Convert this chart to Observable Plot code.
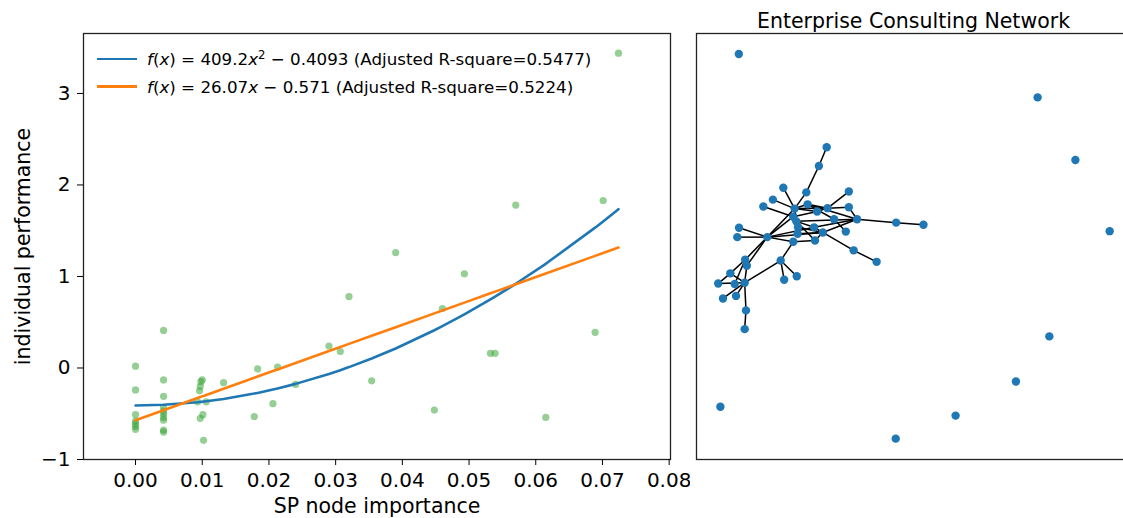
<!DOCTYPE html>
<html><head><meta charset="utf-8">
<script src="https://cdn.jsdelivr.net/npm/d3@7"></script>
<script src="https://cdn.jsdelivr.net/npm/@observablehq/plot@0.6"></script>
<style>
html,body{margin:0;padding:0;background:#fff;overflow:hidden;width:1123px;height:518px;}
#wrap{position:relative;width:1123px;height:518px;overflow:hidden;font-family:"DejaVu Sans";}
#left{position:absolute;left:0;top:0;width:680px;}
#right{position:absolute;left:690px;top:0;width:450px;}
#left svg,#right svg{max-width:none !important;}
.leg{position:absolute;left:97px;height:24px;font-size:16.7px;display:flex;align-items:center;white-space:nowrap;color:#000;font-family:"DejaVu Sans";}
.sw{display:inline-block;width:40px;height:2.6px;margin-right:10px;}
.leg sup{font-size:0.7em;vertical-align:0.5em;line-height:0;}
</style></head><body>
<div id="wrap"><div id="left"></div><div id="right"></div></div>
<script>
// ---- data ----
const spImportance = [0.0042, 0, 0.0042, 0, 0.0042, 0.0100, 0.0098, 0.0097, 0.0096, 0.0132, 0.0106, 0.0093, 0.0183, 0.0213, 0, 0, 0, 0, 0, 0.0042, 0.0042, 0.0042, 0.0042, 0.0042, 0.0042, 0.0042, 0.0101, 0.0097, 0.0102, 0.0178, 0.0206, 0.0701, 0.0570, 0.0390, 0.0493, 0.0320, 0.0460, 0.0689, 0.0290, 0.0307, 0.0532, 0.0539, 0.0240, 0.0354, 0.0448, 0.0615, 0.0724];
const performance = [0.41, 0.02, -0.13, -0.24, -0.31, -0.13, -0.15, -0.20, -0.25, -0.16, -0.37, -0.37, -0.01, 0.01, -0.51, -0.58, -0.61, -0.64, -0.67, -0.43, -0.47, -0.50, -0.54, -0.57, -0.68, -0.70, -0.51, -0.55, -0.79, -0.53, -0.39, 1.83, 1.78, 1.26, 1.03, 0.78, 0.65, 0.39, 0.24, 0.18, 0.16, 0.16, -0.18, -0.14, -0.46, -0.54, 3.44];
const fitQuadCoef = [409.2, -0.4093];   // f(x) = a x^2 + b
const fitLinCoef = [26.07, -0.571];     // f(x) = a x + b
const fitColors = ["#1f77b4", "#ff7f0e"];
const fitLabels = [
  '<i>f</i>(<i>x</i>) = 409.2<i>x</i><sup>2</sup> − 0.4093 (Adjusted R-square=0.5477)',
  '<i>f</i>(<i>x</i>) = 26.07<i>x</i> − 0.571 (Adjusted R-square=0.5224)'
];
const xTicks = [0, 0.01, 0.02, 0.03, 0.04, 0.05, 0.06, 0.07, 0.08];
const yTicks = [-1, 0, 1, 2, 3];
const xLabel = "SP node importance";
const yLabel = "individual performance";

const networkTitle = "Enterprise Consulting Network";
const nodeX = [0.300,0.282,0.253,0.200,0.176,0.154,0.226,0.256,0.278,0.302,0.351,0.351,0.370,0.460,0.523,0.317,0.223,0.230,0.234,0.271,0.291,0.344,0.233,0.223,0.273,0.163,0.098,0.094,0.362,0.415,0.194,0.202,0.231,0.112,0.116,0.078,0.050,0.088,0.111,0.061,0.091,0.114,0.111,0.0975,0.786,0.873,0.952,0.813,0.736,0.597,0.459,0.055];
const nodeY = [0.733,0.689,0.627,0.638,0.610,0.594,0.589,0.599,0.582,0.590,0.629,0.592,0.564,0.556,0.551,0.564,0.570,0.559,0.545,0.545,0.533,0.535,0.530,0.511,0.514,0.522,0.544,0.522,0.491,0.464,0.467,0.422,0.430,0.469,0.455,0.437,0.413,0.412,0.415,0.378,0.384,0.350,0.306,0.952,0.850,0.703,0.536,0.289,0.183,0.103,0.049,0.124];
const edgeSource = [0,1,2,3,4,5,6,6,7,9,9,11,7,12,13,6,8,7,15,12,20,28,19,18,22,24,17,16,6,6,17,23,25,25,25,25,25,25,25,25,25,23,30,30,30,33,35,36,33,34,38,41,35,38,38,12,17];
const edgeTarget = [1,2,6,6,6,16,7,9,9,10,11,12,12,13,14,8,9,15,21,20,28,29,20,20,20,20,19,8,17,18,24,24,26,27,6,16,19,23,20,33,34,30,31,32,38,35,36,38,37,38,41,42,38,39,40,19,12];

// ---- left panel ----
const pts = spImportance.map((x, i) => ({x, y: performance[i]}));
const sortedX = spImportance.slice().sort(d3.ascending);
const fitQuad = sortedX.map(x => ({x, y: fitQuadCoef[0] * x * x + fitQuadCoef[1]}));
const fitLin = sortedX.map(x => ({x, y: fitLinCoef[0] * x + fitLinCoef[1]}));
const minusFmt = d => d < 0 ? "\u2212" + Math.abs(d) : String(d);

const left = Plot.plot({
  width: 680, height: 518,
  marginLeft: 83, marginRight: 10, marginTop: 33, marginBottom: 59,
  style: {fontFamily: "DejaVu Sans", fontSize: "20px", background: "white", color: "black", overflow: "visible"},
  x: {domain: [-0.0078, 0.0802]},
  y: {domain: [-1, 3.655]},
  marks: [
    Plot.dot(pts, {x: "x", y: "y", r: 3.6, fill: "#2ca02c", fillOpacity: 0.5}),
    Plot.line(fitQuad, {x: "x", y: "y", stroke: fitColors[0], strokeWidth: 2.6}),
    Plot.line(fitLin, {x: "x", y: "y", stroke: fitColors[1], strokeWidth: 2.6}),
    Plot.frame({stroke: "#222", strokeWidth: 1.3}),
    Plot.axisX({ticks: xTicks, tickFormat: d3.format(".2f"), tickSize: 6, tickPadding: 7, fontSize: 20, label: null}),
    Plot.axisY({ticks: yTicks, tickFormat: minusFmt, tickSize: 6, tickPadding: 7, fontSize: 20, label: null}),
    Plot.text([xLabel], {frameAnchor: "bottom", dy: 53, lineAnchor: "bottom", fontSize: 20.5, fill: "black"}),
    Plot.text([yLabel], {frameAnchor: "left", dx: -54, rotate: -90, lineAnchor: "bottom", textAnchor: "middle", fontSize: 20.5, fill: "black"})
  ]
});
document.getElementById("left").appendChild(left);

// legend
const wrap = document.getElementById("wrap");
const legendCenters = [59, 86.5];
fitLabels.forEach((lab, i) => {
  const row = document.createElement("div");
  row.className = "leg";
  row.style.top = (legendCenters[i] - 12) + "px";
  row.innerHTML = `<span class="sw" style="background:${fitColors[i]}"></span><span>${lab}</span>`;
  wrap.appendChild(row);
});

// ---- right panel ----
const nodes = nodeX.map((x, i) => ({x, y: nodeY[i]}));
const edges = edgeSource.map((s, i) => ({x1: nodeX[s], y1: nodeY[s], x2: nodeX[edgeTarget[i]], y2: nodeY[edgeTarget[i]]}));
const right = Plot.plot({
  width: 450, height: 518,
  marginLeft: 6, marginRight: 10, marginTop: 33, marginBottom: 59,
  style: {fontFamily: "DejaVu Sans", fontSize: "20px", background: "white", color: "black", overflow: "visible", maxWidth: "none"},
  x: {domain: [0, 1], axis: null},
  y: {domain: [0, 1], axis: null},
  marks: [
    Plot.link(edges, {x1: "x1", y1: "y1", x2: "x2", y2: "y2", stroke: "black", strokeWidth: 1.5}),
    Plot.dot(nodes, {x: "x", y: "y", r: 4.2, fill: "#1f77b4"}),
    Plot.frame({stroke: "#222", strokeWidth: 1.3}),
    Plot.text([networkTitle], {frameAnchor: "top", dy: -6, lineAnchor: "bottom", fontSize: 20.5, fill: "black"})
  ]
});
document.getElementById("right").appendChild(right);
</script>
</body></html>
